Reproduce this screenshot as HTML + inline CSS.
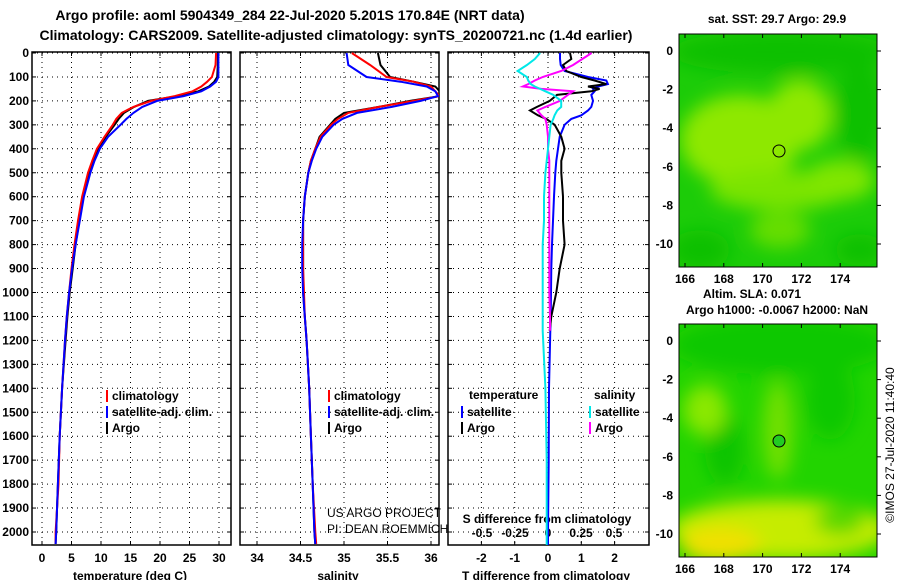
<!DOCTYPE html>
<html><head><meta charset="utf-8"><style>
html,body{margin:0;padding:0;background:#fff;}
svg{display:block;font-family:"Liberation Sans",Arial,sans-serif;}
</style></head><body>
<svg id="c" width="900" height="580" viewBox="0 0 900 580">
<defs>
<filter id="bl" x="-50%" y="-50%" width="200%" height="200%"><feGaussianBlur stdDeviation="9"/></filter>
<clipPath id="cm1"><rect x="679" y="34" width="198" height="233"/></clipPath>
<clipPath id="cm2"><rect x="679" y="324" width="198" height="233"/></clipPath>
<clipPath id="cp1"><rect x="32" y="52" width="199" height="493"/></clipPath>
<clipPath id="cp2"><rect x="240" y="52" width="199" height="493"/></clipPath>
<clipPath id="cp3"><rect x="448" y="52" width="201" height="493"/></clipPath>
</defs>
<text x="290" y="20" text-anchor="middle" font-size="14" font-weight="bold">Argo profile: aoml 5904349_284 22-Jul-2020 5.201S 170.84E (NRT data)</text>
<text x="336" y="40" text-anchor="middle" font-size="14" font-weight="bold">Climatology: CARS2009. Satellite-adjusted climatology: synTS_20200721.nc (1.4d earlier)</text>

<g clip-path="url(#cm1)">
<rect x="679" y="34" width="198" height="233" fill="#1ccc08"/>
<g filter="url(#bl)">
<ellipse cx="740" cy="140" rx="60" ry="45" fill="#8ee800"/>
<ellipse cx="800" cy="115" rx="32" ry="35" fill="#8ee800"/>
<ellipse cx="780" cy="190" rx="70" ry="20" fill="#7ae400"/>
<ellipse cx="840" cy="180" rx="35" ry="20" fill="#80e600"/>
<ellipse cx="780" cy="230" rx="30" ry="18" fill="#66de00"/>
<ellipse cx="780" cy="52" rx="110" ry="22" fill="#0ac000"/>
<ellipse cx="860" cy="110" rx="25" ry="50" fill="#0ac000"/>
<ellipse cx="700" cy="250" rx="30" ry="20" fill="#0ac000"/>
<ellipse cx="860" cy="250" rx="25" ry="16" fill="#0ac000"/>
</g>
</g>
<rect x="679" y="34" width="198" height="233" fill="none" stroke="#000"/>
<circle cx="779" cy="151" r="6" fill="none" stroke="#000"/>

<g clip-path="url(#cm2)">
<rect x="679" y="324" width="198" height="233" fill="#22d400"/>
<g filter="url(#bl)">
<ellipse cx="780" cy="345" rx="110" ry="30" fill="#08c800"/>
<ellipse cx="830" cy="400" rx="25" ry="40" fill="#10c800"/>
<ellipse cx="725" cy="450" rx="20" ry="35" fill="#10c400"/>
<ellipse cx="705" cy="410" rx="22" ry="25" fill="#8ae800"/>
<ellipse cx="778" cy="430" rx="15" ry="50" fill="#72e000"/>
<ellipse cx="780" cy="530" rx="110" ry="30" fill="#c6ec00"/>
<ellipse cx="720" cy="545" rx="40" ry="18" fill="#f0e000"/>
<ellipse cx="840" cy="520" rx="25" ry="15" fill="#5ad800"/>
</g>
</g>
<rect x="679" y="324" width="198" height="233" fill="none" stroke="#000"/>
<circle cx="779" cy="441" r="6" fill="#22cc22" stroke="#000"/>

<text x="777" y="23" text-anchor="middle" font-size="12" font-weight="bold">sat. SST: 29.7 Argo: 29.9</text>
<text x="752" y="298" text-anchor="middle" font-size="12" font-weight="bold">Altim. SLA: 0.071</text>
<text x="777" y="314" text-anchor="middle" font-size="12" font-weight="bold">Argo h1000: -0.0067 h2000: NaN</text>
<text transform="translate(894,445) rotate(-90)" text-anchor="middle" font-size="12">©IMOS 27-Jul-2020 11:40:40</text>
<text x="327" y="517" font-size="12">US ARGO PROJECT</text>
<text x="327" y="533" font-size="12">PI: DEAN ROEMMICH</text>
<g id="dyn"></g>
</svg>
<script>
// depth levels (m)
const depthT = [0,50,100,120,140,160,180,200,225,250,275,300,350,400,450,500,600,700,800,900,1000,1100,1200,1400,1600,1800,2000,2050];
const argoT = [29.8,29.8,29.7,29.2,28.3,26.5,23,18,15.6,13.9,13,12.3,10.8,9.5,8.7,8,7,6.3,5.7,5.2,4.7,4.3,4.0,3.4,3.0,2.7,2.4,2.3];
const climT = [29.5,29.4,28.8,28,27,25.5,22.5,18.5,15.5,13.5,12.6,12,10.6,9.3,8.5,7.8,6.8,6.1,5.5,5,4.6,4.2,3.9,3.4,3.0,2.8,2.3,2.3];
const satT = [29.9,29.9,29.9,29.5,28.5,27,24,19.5,17,15.5,14.3,13.3,11.2,9.8,8.9,8.2,7.1,6.4,5.7,5.1,4.6,4.2,3.9,3.4,3.0,2.7,2.4,2.3];
const argoS = [35.39,35.42,35.53,35.8,36.05,36.1,36.1,35.76,35.4,35.0,34.9,34.84,34.72,34.67,34.62,34.59,34.55,34.53,34.53,34.53,34.53,34.55,34.57,34.6,34.62,34.64,34.66,34.67];
const climS = [35.09,35.3,35.49,35.8,36.0,36.05,36.1,35.8,35.4,35.05,34.93,34.85,34.73,34.67,34.62,34.59,34.55,34.53,34.53,34.53,34.54,34.55,34.57,34.6,34.62,34.64,34.67,34.68];
const satS = [35.03,35.05,35.26,35.65,35.95,36.05,36.08,35.88,35.55,35.15,34.98,34.88,34.75,34.68,34.63,34.59,34.55,34.53,34.52,34.52,34.53,34.55,34.57,34.6,34.62,34.64,34.66,34.67];
const depthD = [0,25,50,75,100,115,130,140,150,160,175,200,225,240,260,275,300,350,400,450,500,600,700,800,900,1000,1100,1160];
const argoTd = [0.66,0.7,0.45,0.55,1.0,1.4,1.75,1.2,1.55,1.3,0.27,0.05,-0.33,-0.54,-0.3,-0.05,0.2,0.4,0.5,0.4,0.4,0.45,0.45,0.5,0.35,0.25,0.1,0.05];
const argoSd = [0.33,0.26,0.19,0.1,-0.04,-0.1,-0.15,-0.19,-0.05,0.19,0.15,0.09,-0.02,-0.08,-0.05,-0.02,-0.01,0,0,0.01,0.01,0.01,0.01,0.01,0.01,0.01,0.015,0.015];
const depthDs = [0,25,50,75,100,115,130,140,150,160,175,200,225,240,260,275,300,350,400,450,500,600,700,800,900,1000,1100,1160,1400,1700,2000,2054];
const satTd = [0.36,0.36,0.38,0.5,1.2,1.75,1.8,1.5,1.35,1.4,1.3,1.35,1.3,1.2,1.0,0.7,0.5,0.35,0.3,0.25,0.22,0.18,0.15,0.12,0.1,0.09,0.08,0.07,0.03,0.02,0.0,0.0];
const satSd = [-0.06,-0.1,-0.16,-0.23,-0.16,-0.15,-0.13,-0.1,-0.06,-0.02,0.04,0.1,0.1,0.07,0.05,0.04,0.02,0.01,0,-0.01,-0.02,-0.03,-0.03,-0.04,-0.04,-0.04,-0.04,-0.04,-0.02,-0.01,-0.01,-0.01];
const depthTicks = [0,100,200,300,400,500,600,700,800,900,1000,1100,1200,1300,1400,1500,1600,1700,1800,1900,2000];
const tempTicks = [0,5,10,15,20,25,30];
const salTicks = [34,34.5,35,35.5,36];
const tdTicks = [-2,-1,0,1,2];
const sdTicks = [-0.5,-0.25,0,0.25,0.5];
const lonTicks = [166,168,170,172,174];
const latTicks = [0,-2,-4,-6,-8,-10];

const NS='http://www.w3.org/2000/svg';
const g=document.getElementById('dyn');
function mk(tag,attrs,parent){const e=document.createElementNS(NS,tag);for(const k in attrs)e.setAttribute(k,attrs[k]);(parent||g).appendChild(e);return e;}
const yD=d=>53+d*0.2395;
const xT=v=>42+v*5.9;
const xS=v=>257+(v-34)*87;
const xTd=v=>548+v*33.3;
const xSd=v=>548+v*132;
const panels=[[32,231],[240,439],[448,649]];
const TOP=52,BOT=545;

panels.forEach((p,i)=>{
  depthTicks.forEach(d=>{
    const l=mk('line',{x1:p[0],x2:p[1],y1:yD(d),y2:yD(d),stroke:'#000','stroke-dasharray':'1 4'});
    
    
    mk('line',{x1:p[0],x2:p[0]+4,y1:yD(d),y2:yD(d),stroke:'#000'});
    mk('line',{x1:p[1]-4,x2:p[1],y1:yD(d),y2:yD(d),stroke:'#000'});
  });
  const ticks=i==0?tempTicks:i==1?salTicks:tdTicks;
  const fx=i==0?xT:i==1?xS:xTd;
  ticks.forEach(t=>{
    const x=fx(t);
    const l=mk('line',{x1:x,x2:x,y1:TOP,y2:BOT,stroke:'#000','stroke-dasharray':'1 4'});
    
    
    mk('line',{x1:x,x2:x,y1:BOT-4,y2:BOT,stroke:'#000'});
    mk('line',{x1:x,x2:x,y1:TOP,y2:TOP+4,stroke:'#000'});
    const tx=mk('text',{x:x,y:562,'text-anchor':'middle','font-size':12,'font-weight':'bold'});
    tx.textContent=String(t);
    
    
  });
  const fr=mk('rect',{x:p[0],y:TOP,width:p[1]-p[0],height:BOT-TOP,fill:'none',stroke:'#000','stroke-width':1.5});
  
  
});
depthTicks.forEach(d=>{
  const t=mk('text',{x:29,y:yD(d)+4,'text-anchor':'end','font-size':12,'font-weight':'bold'});
  t.textContent=String(d);
  
  
});
sdTicks.forEach(s=>{
  const t=mk('text',{x:xSd(s),y:537,'text-anchor':'middle','font-size':12,'font-weight':'bold'});
  t.textContent=String(s);
  
  
});
[['temperature (deg C)',130,'temperature-axis-title'],['salinity',338,'salinity-axis-title'],['T difference from climatology',546,'t-diff-axis-title']].forEach(a=>{
  const t=mk('text',{x:a[1],y:580,'text-anchor':'middle','font-size':12,'font-weight':'bold'});
  t.textContent=a[0];
  
  
});
{const t=mk('text',{x:547,y:523,'text-anchor':'middle','font-size':12,'font-weight':'bold'});
t.textContent='S difference from climatology';

}

function line(depths,vals,fx,color,clip,name){
  const pts=vals.map((v,i)=>fx(v).toFixed(1)+','+yD(depths[i]).toFixed(1)).join(' ');
  const e=mk('polyline',{points:pts,fill:'none',stroke:color,'stroke-width':2,'clip-path':'url(#'+clip+')'});
  
  
}
line(depthT,argoT,xT,'#000','cp1','temp-argo-line');
line(depthT,climT,xT,'#f00','cp1','temp-climatology-line');
line(depthT,satT,xT,'#00f','cp1','temp-satellite-line');
line(depthT,argoS,xS,'#000','cp2','sal-argo-line');
line(depthT,climS,xS,'#f00','cp2','sal-climatology-line');
line(depthT,satS,xS,'#00f','cp2','sal-satellite-line');
line(depthDs,satTd,xTd,'#00f','cp3','t-diff-satellite-line');
line(depthD,argoTd,xTd,'#000','cp3','t-diff-argo-line');
line(depthD,argoSd,xSd,'#f0f','cp3','s-diff-argo-line');
line(depthDs,satSd,xSd,'#00e8e8','cp3','s-diff-satellite-line');

function leg(x,y,color,label,name){
  const r=mk('rect',{x:x,y:y-9,width:2,height:12,fill:color});
  
  
  const t=mk('text',{x:x+6,y:y+1,'font-size':12,'font-weight':'bold'});
  t.textContent=label;
  
  
}
[[106,'temp'],[328,'sal']].forEach(p=>{
  leg(p[0],399,'#f00','climatology','legend-'+p[1]+'-climatology');
  leg(p[0],415,'#00f','satellite-adj. clim.','legend-'+p[1]+'-satellite');
  leg(p[0],431,'#000','Argo','legend-'+p[1]+'-argo');
});
{const t=mk('text',{x:469,y:399,'font-size':12,'font-weight':'bold'});t.textContent='temperature';


const u=mk('text',{x:594,y:399,'font-size':12,'font-weight':'bold'});u.textContent='salinity';

}
leg(461,415,'#00f','satellite','legend-tdiff-satellite');
leg(461,431,'#000','Argo','legend-tdiff-argo');
leg(589,415,'#00e8e8','satellite','legend-sdiff-satellite');
leg(589,431,'#f0f','Argo','legend-sdiff-argo');

[[34,267,51,283],[324,557,341,573]].forEach((m,k)=>{
  lonTicks.forEach(lo=>{
    const x=685+(lo-166)*19.4;
    mk('line',{x1:x,x2:x,y1:m[1]-4,y2:m[1],stroke:'#000'});
    mk('line',{x1:x,x2:x,y1:m[0],y2:m[0]+4,stroke:'#000'});
    const t=mk('text',{x:x,y:m[3],'text-anchor':'middle','font-size':12,'font-weight':'bold'});
    t.textContent=String(lo);
    
    
  });
  latTicks.forEach(la=>{
    const y=m[2]-la*19.3;
    mk('line',{x1:877,x2:881,y1:y,y2:y,stroke:'#000'});
    const t=mk('text',{x:673,y:y+4,'text-anchor':'end','font-size':12,'font-weight':'bold'});
    t.textContent=String(la);
    
    
  });
});
</script>
</body></html>
